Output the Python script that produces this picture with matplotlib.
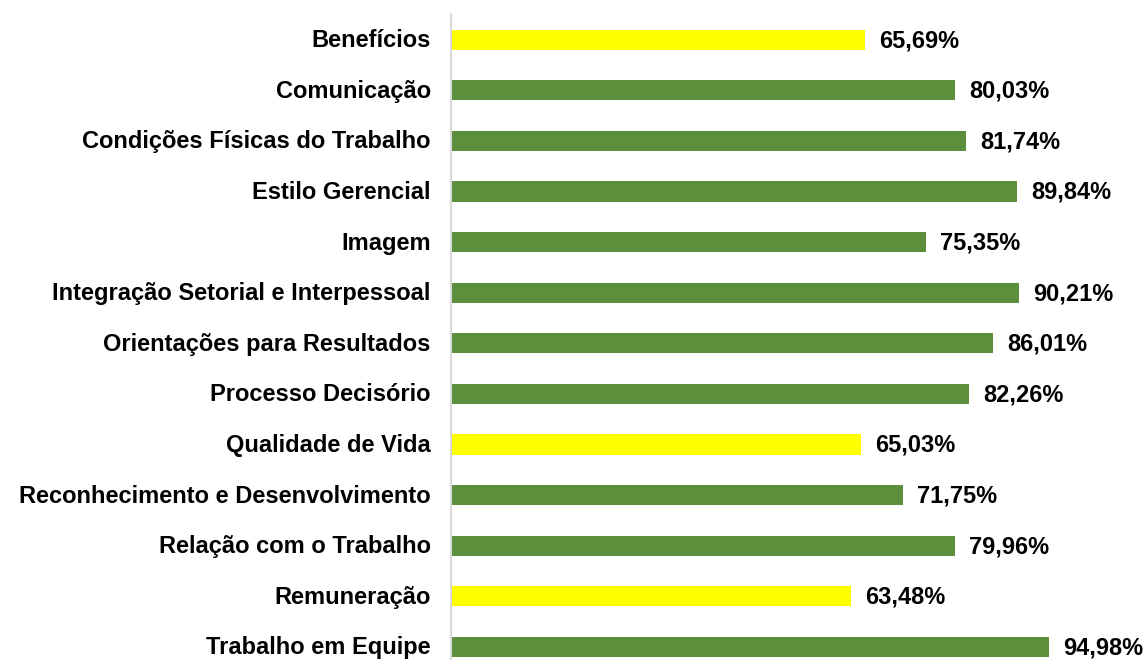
import matplotlib
matplotlib.use("Agg")
import matplotlib.pyplot as plt
import matplotlib.transforms as mtransforms

# Dados do gráfico
categorias = [
    "Benefícios",
    "Comunicação",
    "Condições Físicas do Trabalho",
    "Estilo Gerencial",
    "Imagem",
    "Integração Setorial e Interpessoal",
    "Orientações para Resultados",
    "Processo Decisório",
    "Qualidade de Vida",
    "Reconhecimento e Desenvolvimento",
    "Relação com o Trabalho",
    "Remuneração",
    "Trabalho em Equipe",
]
valores = [65.69, 80.03, 81.74, 89.84, 75.35, 90.21, 86.01,
           82.26, 65.03, 71.75, 79.96, 63.48, 94.98]

VERDE = "#5B8F3B"
AMARELO = "#FFFF00"
cores = [AMARELO if v < 70 else VERDE for v in valores]

plt.rcParams["font.family"] = ["Liberation Sans", "DejaVu Sans"]
TAM = 17

fig = plt.figure(figsize=(11.48, 6.6), dpi=100)
ax = fig.add_axes([451 / 1148, 0, 1 - 451 / 1148, 1 - 14.4 / 660])

pos = list(range(len(categorias)))
ax.barh(pos, valores, height=0.4, color=cores)

# Rótulos de valor
for y, v in zip(pos, valores):
    txt = f"{v:.2f}".replace(".", ",") + "%"
    ax.annotate(txt, (v, y), xytext=(14, 1.5), textcoords="offset pixels",
                va="center_baseline", ha="left", fontsize=TAM,
                fontweight="bold")

ax.set_yticks(pos)
ax.set_yticklabels(categorias, fontsize=TAM, fontweight="bold")
ax.tick_params(axis="y", length=0, pad=14.5)
ax.set_xticks([])
ax.set_xlim(0, (1148 - 451) / 6.3)
ax.set_ylim(12.26, -0.5)

# pequeno ajuste vertical dos rótulos
desloc = mtransforms.ScaledTranslation(0, 1.5 / 100, fig.dpi_scale_trans)
for lbl in ax.get_yticklabels():
    lbl.set_transform(lbl.get_transform() + desloc)

for s in ["top", "right", "bottom"]:
    ax.spines[s].set_visible(False)
ax.spines["left"].set_color("#D9D9D9")
ax.spines["left"].set_linewidth(1.5)

fig.savefig("out.png", dpi=100)
